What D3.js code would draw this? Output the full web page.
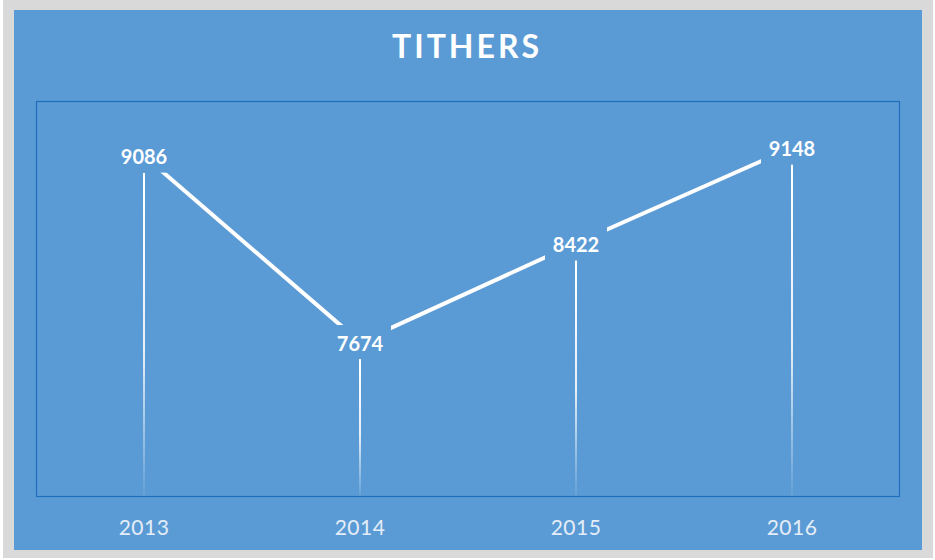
<!DOCTYPE html>
<html>
<head>
<meta charset="utf-8">
<script src="https://cdn.jsdelivr.net/npm/d3@7"></script>
<style>
  body { margin: 0; background: #fff; }
  svg { display: block; }
</style>
</head>
<body>
<div id="chart"></div>
<script>
// Données
const title = 'TITHERS';
const years = ['2013', '2014', '2015', '2016'];
const tithers = [9086, 7674, 8422, 9148];
const yDomain = [6500, 9500];

const width = 935;
const height = 560;
const plot = { left: 36, top: 101, right: 900, bottom: 497 };
const blue = '#5b9bd5';

const svg = d3.select('#chart')
  .append('svg')
  .attr('width', width)
  .attr('height', height);

// Cadre gris + fond bleu
svg.append('rect')
  .attr('x', 3).attr('y', 0)
  .attr('width', 930).attr('height', 558)
  .attr('fill', '#d9d9d9');

svg.append('rect')
  .attr('x', 14).attr('y', 10)
  .attr('width', 908).attr('height', 540)
  .attr('fill', blue);

// Titre
svg.append('text')
  .attr('x', 467)
  .attr('y', 58)
  .attr('text-anchor', 'middle')
  .attr('font-family', 'Lato, "Open Sans", sans-serif')
  .attr('font-weight', 'bold')
  .attr('font-size', '32px')
  .attr('letter-spacing', '3px')
  .attr('fill', '#fff')
  .text(title);

// Zone de tracé
svg.append('rect')
  .attr('x', plot.left + 0.5)
  .attr('y', plot.top + 0.5)
  .attr('width', plot.right - plot.left - 1)
  .attr('height', plot.bottom - plot.top - 1)
  .attr('fill', 'none')
  .attr('stroke', '#1f6dbd')
  .attr('stroke-width', 1.2);

const xScale = d3.scaleBand()
  .domain(years)
  .range([plot.left, plot.right]);

const yScale = d3.scaleLinear()
  .domain(yDomain)
  .range([plot.bottom, plot.top]);

const cx = d => xScale(d) + xScale.bandwidth() / 2;

const points = years.map((y, i) => ({ year: y, value: tithers[i] }));

// Dégradé pour les lignes verticales
const defs = svg.append('defs');
const grad = defs.append('linearGradient')
  .attr('id', 'dropGrad')
  .attr('x1', 0).attr('x2', 0)
  .attr('y1', 0).attr('y2', 1);
grad.append('stop').attr('offset', '0%').attr('stop-color', '#fff').attr('stop-opacity', 1);
grad.append('stop').attr('offset', '55%').attr('stop-color', '#fff').attr('stop-opacity', 0.85);
grad.append('stop').attr('offset', '100%').attr('stop-color', '#fff').attr('stop-opacity', 0.05);

// Lignes de chute
svg.selectAll('.drop')
  .data(points)
  .enter()
  .append('rect')
  .attr('class', 'drop')
  .attr('x', d => cx(d.year) - 1)
  .attr('y', d => yScale(d.value) + 17)
  .attr('width', 2)
  .attr('height', d => plot.bottom - 1 - (yScale(d.value) + 17))
  .attr('fill', 'url(#dropGrad)');

// Ligne principale
const line = d3.line()
  .x(d => cx(d.year))
  .y(d => yScale(d.value));

svg.append('path')
  .datum(points)
  .attr('d', line)
  .attr('fill', 'none')
  .attr('stroke', '#fff')
  .attr('stroke-width', 4);

// Étiquettes de données
const labels = svg.selectAll('.label')
  .data(points)
  .enter()
  .append('g')
  .attr('class', 'label')
  .attr('transform', d => `translate(${cx(d.year)},${yScale(d.value)})`);

labels.append('rect')
  .attr('x', -31)
  .attr('y', -17)
  .attr('width', 62)
  .attr('height', 34)
  .attr('fill', blue);

labels.append('text')
  .attr('text-anchor', 'middle')
  .attr('dy', '0.43em')
  .attr('font-family', 'Lato, "Open Sans", sans-serif')
  .attr('font-weight', 'bold')
  .attr('font-size', '20px')
  .attr('fill', '#fff')
  .text(d => d.value);

// Axe X
const xAxis = d3.axisBottom(xScale).tickSize(0).tickPadding(0);
const axisG = svg.append('g')
  .attr('transform', `translate(0,${plot.bottom})`)
  .call(xAxis);
axisG.select('.domain').remove();
axisG.selectAll('text')
  .attr('y', 0)
  .attr('dy', 38)
  .attr('font-family', 'Lato, "Open Sans", sans-serif')
  .attr('font-size', '21px')
  .attr('letter-spacing', '0.5px')
  .attr('fill', '#e4edf8');
</script>
</body>
</html>
